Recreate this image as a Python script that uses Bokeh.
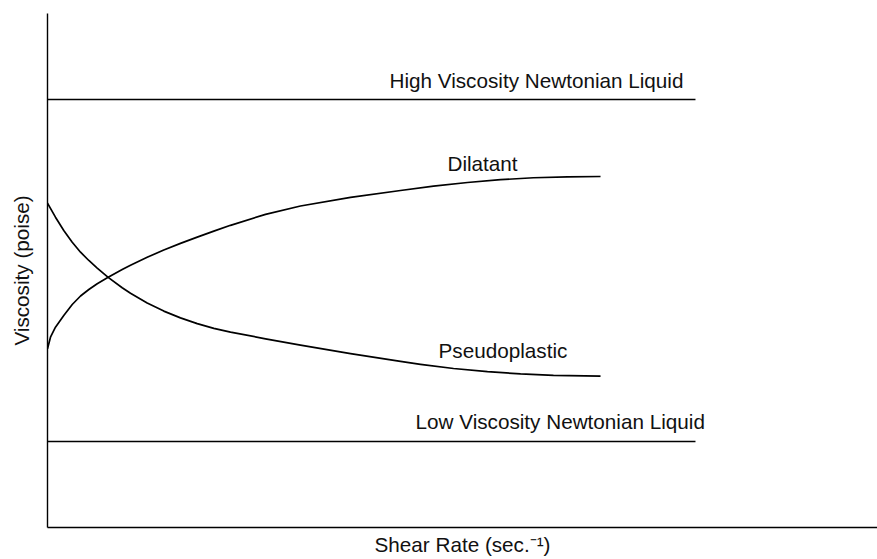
from bokeh.plotting import figure
from bokeh.models import Range1d, FixedTicker, Label
from bokeh.embed import file_html
from bokeh.resources import INLINE

# ---- data (arbitrary units: shear rate 0..100, viscosity 0..100) ----
newton_x = [0.0, 78.07]
high_newton_y = [83.27, 83.27]
low_newton_y = [16.73, 16.73]

pseudo_x = [0.0, 0.96, 1.96, 2.98, 3.98, 4.98, 5.99, 7.31, 9.0, 10.0, 12.01, 14.01, 16.02,
            18.04, 20.04, 22.05, 26.27, 30.48, 36.51, 42.53, 44.94, 48.92, 53.01, 56.99,
            60.96, 66.63]
pseudo_y = [63.09, 60.37, 57.78, 55.51, 53.56, 51.95, 50.47, 48.66, 46.65, 45.56, 43.66,
            42.10, 40.78, 39.67, 38.75, 38.02, 36.71, 35.49, 33.83, 32.32, 31.75, 30.93,
            30.31, 29.88, 29.61, 29.44]

dil_x = [0.0, 0.36, 0.96, 1.96, 2.98, 3.98, 4.98, 5.99, 7.31, 9.0, 10.0, 12.01, 14.01,
         16.02, 18.04, 20.04, 22.05, 26.27, 30.48, 36.51, 42.53, 46.51, 50.6, 54.58, 58.55,
         62.65, 66.63]
dil_y = [34.77, 37.02, 38.97, 41.25, 43.39, 45.04, 46.30, 47.43, 48.70, 50.19, 51.03, 52.57,
         53.99, 55.27, 56.50, 57.67, 58.79, 60.93, 62.55, 64.24, 65.56, 66.42, 67.12, 67.67,
         68.04, 68.23, 68.29]

curve_labels = ["High Viscosity Newtonian Liquid", "Dilatant", "Pseudoplastic",
                "Low Viscosity Newtonian Liquid"]
x_title = "Shear Rate (sec.\u207b\u00b9)"
y_title = "Viscosity (poise)"

FONT = "Liberation Sans"
FS = "20.7px"

p = figure(width=877, height=559, output_backend="svg", toolbar_location=None,
           x_range=Range1d(0, 100), y_range=Range1d(0, 100),
           min_border_left=47, min_border_right=0, min_border_top=13, min_border_bottom=32)
p.grid.visible = False
p.outline_line_color = None
p.background_fill_color = "white"
p.border_fill_color = "white"

for ax in (p.xaxis, p.yaxis):
    ax.ticker = FixedTicker(ticks=[])
    ax.major_tick_out = 0
    ax.major_tick_in = 0
    ax.minor_tick_out = 0
    ax.minor_tick_in = 0
    ax.axis_line_color = "black"
    ax.axis_line_width = 1.4
    ax.axis_label_text_font = FONT
    ax.axis_label_text_font_size = FS
    ax.axis_label_text_font_style = "normal"
    ax.axis_label_text_color = "#111111"

p.xaxis.axis_label = x_title
p.yaxis.axis_label = y_title
p.xaxis.axis_label_standoff = 5
p.yaxis.axis_label_standoff = 15

lw = 1.7
p.line(newton_x, high_newton_y, line_color="black", line_width=lw)
p.line(newton_x, low_newton_y, line_color="black", line_width=lw)
p.line(pseudo_x, pseudo_y, line_color="black", line_width=lw, line_join="round")
p.line(dil_x, dil_y, line_color="black", line_width=lw, line_join="round")

label_pos = [(41.2, 87.0), (48.19, 70.86), (47.11, 34.53), (44.34, 20.6)]
for txt, (lx, ly) in zip(curve_labels, label_pos):
    p.add_layout(Label(x=lx, y=ly, text=txt, text_font=FONT, text_font_size=FS,
                       text_color="#111111", text_baseline="alphabetic", text_align="left"))

open("out.html", "w").write(file_html(p, INLINE))
